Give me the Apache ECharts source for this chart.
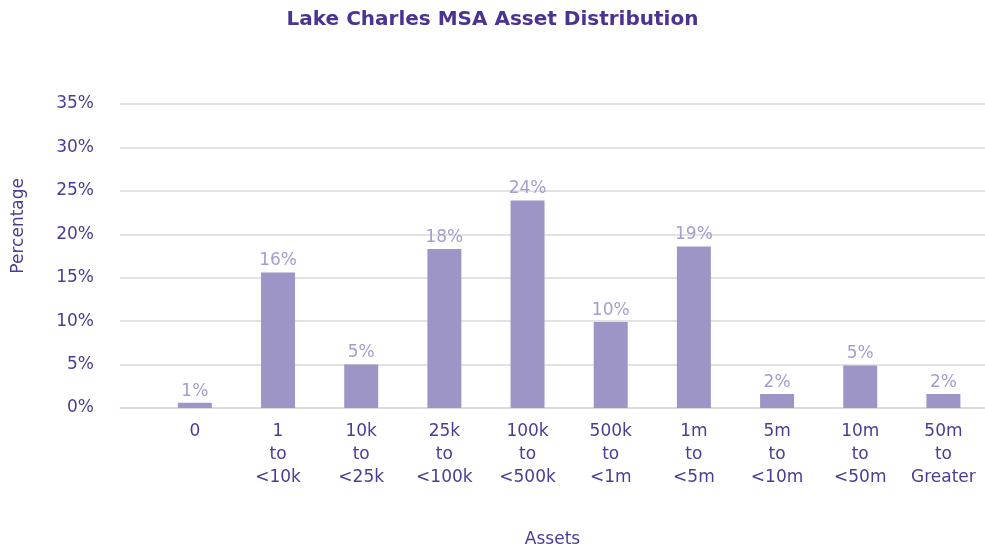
<!DOCTYPE html>
<html>
<head>
<meta charset="utf-8">
<script src="https://cdn.jsdelivr.net/npm/echarts@6/dist/echarts.min.js"></script>
<style>
  html, body { margin: 0; padding: 0; background: #fff; }
  #chart { width: 985px; height: 544px; }
</style>
</head>
<body>
<div id="chart"></div>
<script>
const categories = ["0", "1\nto\n<10k", "10k\nto\n<25k", "25k\nto\n<100k", "100k\nto\n<500k",
  "500k\nto\n<1m", "1m\nto\n<5m", "5m\nto\n<10m", "10m\nto\n<50m", "50m\nto\nGreater"];
const percentages = [0.6, 15.6, 5.0, 18.3, 23.9, 9.9, 18.6, 1.6, 4.9, 1.6];
const yTicks = [0, 5, 10, 15, 20, 25, 30, 35];

const FONT = "DejaVu Sans";
const DARK = "#4b3c96";

const chart = echarts.init(document.getElementById("chart"));

const option = {
  animation: false,
  textStyle: { fontFamily: FONT },
  title: {
    text: "Lake Charles MSA Asset Distribution",
    left: "center",
    top: 5,
    textStyle: { fontFamily: FONT, fontSize: 20, fontWeight: "bold", color: "#4b3393" },
  },
  grid: { left: 120, right: 0, top: 104, bottom: 136, outerBoundsMode: "none" },
  xAxis: {
    type: "value",
    min: -0.9,
    max: 9.5,
    name: "Assets",
    nameLocation: "middle",
    nameGap: 123,
    nameTextStyle: { fontSize: 17, color: DARK },
    splitLine: { show: false },
    axisLine: { show: true, lineStyle: { color: "#d9d9d9", width: 1.5 } },
    axisTick: { show: false },
    axisLabel: {
      customValues: categories.map((c, i) => i),
      formatter: (v) => categories[Math.round(v)],
      fontSize: 17,
      lineHeight: 23,
      color: DARK,
      margin: 12,
    },
  },
  yAxis: {
    type: "value",
    min: 0,
    max: 35,
    interval: 5,
    axisLine: { show: false },
    axisTick: { show: false },
    splitLine: { lineStyle: { color: "#d9d9d9", width: 1.5 } },
    axisLabel: {
      customValues: yTicks,
      formatter: "{value}%",
      fontSize: 17,
      color: DARK,
      margin: 26,
    },
  },
  graphic: [
    {
      type: "text",
      left: 10,
      top: 178,
      rotation: Math.PI / 2,
      style: { text: "Percentage", fontFamily: FONT, fontSize: 17, fill: DARK },
    },
  ],
  series: [
    {
      type: "bar",
      barWidth: 34,
      data: categories.map((c, i) => [i, percentages[i]]),
      itemStyle: { color: "#9e95c7" },
      label: {
        show: true,
        position: "top",
        distance: 3,
        fontSize: 17,
        color: "#a59dd0",
        formatter: (p) => Math.round(p.value[1]) + "%",
      },
    },
  ],
};
chart.setOption(option);
</script>
</body>
</html>
